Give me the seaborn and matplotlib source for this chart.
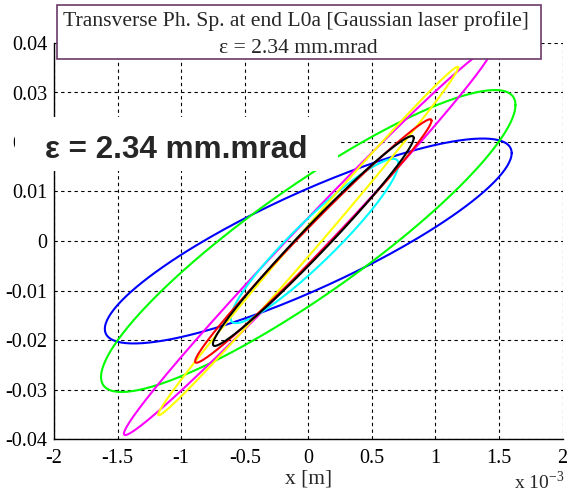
import numpy as np
import pandas as pd
import matplotlib
matplotlib.use("Agg")
from matplotlib import pyplot as plt
from matplotlib.patches import Rectangle
import seaborn as sb

# phase space ellipses
# x in units of 1e-3 m, x' in rad, phase = x / x' correlation angle
beams = ["blue", "green", "magenta", "cyan", "yellow", "red", "black"]
line_colors = ["#0000ff", "#00ff00", "#ff00ff", "#00ffff", "#ffff00", "#ff0000", "#000000"]
x_half = [1.60, 1.63, 1.45, 0.66, 1.18, 0.93, 0.79]
xp_half = [0.0207, 0.0305, 0.0392, 0.0166, 0.0352, 0.0246, 0.0212]
phase = [0.54, 0.45, 0.12, 0.36, 0.09, 0.15, 0.19]
x_center = [0.0, 0.0, 0.0, 0.05, 0.0, 0.04, 0.04]
xp_center = [0.0, 0.0, 0.0, 0.0, 0.0, 0.0, 0.0]

x_ticks = [-2, -1.5, -1, -0.5, 0, 0.5, 1, 1.5, 2]
x_ticklabels = ["-2", "-1.5", "-1", "-0.5", "0", "0.5", "1", "1.5", "2"]
y_ticks = [-0.04, -0.03, -0.02, -0.01, 0, 0.01, 0.02, 0.03, 0.04]
y_ticklabels = ["-0.04", "-0.03", "-0.02", "-0.01", "0", "0.01", "0.02", "0.03", "0.04"]

title_line1 = "Transverse Ph. Sp. at end L0a [Gaussian laser profile]"
title_line2 = "\u03b5 = 2.34 mm.mrad"
big_label = "\u03b5 = 2.34 mm.mrad"
x_label = "x [m]"
x_scale = "x 10$^{-3}$"

# build the outlines
t = np.linspace(0, 2 * np.pi, 240)
frames = []
for name, a, b, ph, xc, yc in zip(beams, x_half, xp_half, phase, x_center, xp_center):
    frames.append(pd.DataFrame({"beam": name,
                                "step": np.arange(len(t)),
                                "x": xc + a * np.cos(t),
                                "xp": yc + b * np.cos(t - ph)}))
df = pd.concat(frames, ignore_index=True)

sb.set_style("white")
plt.rcParams["font.family"] = ["Liberation Serif", "DejaVu Serif"]
plt.rcParams["axes.unicode_minus"] = False
plt.rcParams["mathtext.fontset"] = "custom"
plt.rcParams["mathtext.rm"] = "Liberation Serif"

W, H = 568, 494
fig = plt.figure(figsize=(W / 100, H / 100), dpi=100)
ax = fig.add_axes([54 / W, 1 - 439 / H, (562.5 - 54) / W, (439 - 43) / H])

sb.lineplot(data=df, x="x", y="xp", hue="beam", units="beam", estimator=None,
            sort=False, palette=dict(zip(beams, line_colors)), hue_order=beams,
            linewidth=1.5, legend=False, ax=ax)

ax.set_xlim(-2, 2)
ax.set_ylim(-0.04, 0.04)
ax.set_xticks(x_ticks)
ax.set_xticklabels(x_ticklabels)
ax.set_yticks(y_ticks)
ax.set_yticklabels(y_ticklabels)
ax.grid(True, color="black", linestyle=(0, (3, 3)), linewidth=0.8)
for s in ["top", "right"]:
    ax.spines[s].set_visible(False)
for s in ["left", "bottom"]:
    ax.spines[s].set_color("black")
    ax.spines[s].set_linewidth(1.0)
ax.tick_params(direction="in", length=4, width=0.8, labelsize=14.5, colors="black")
ax.tick_params(axis="x", pad=7)
ax.tick_params(axis="y", pad=5)
ax.set_xlabel(x_label, fontsize=15.5, labelpad=1)
ax.set_ylabel("")

def fx(px):
    return px / W

def fy(py):
    return 1 - py / H

# x 10^-3 scale note at the bottom right corner
fig.text(fx(514), fy(493), x_scale, fontsize=14, ha="left", va="bottom")

# title box
fig.add_artist(Rectangle((fx(57), fy(59)), (541 - 57) / W, (59 - 5) / H,
                         transform=fig.transFigure, facecolor="white",
                         edgecolor="#6a3a6a", linewidth=1.2, zorder=2))
fig.text(fx(296), fy(26), title_line1, fontsize=15.6, ha="center", va="baseline", zorder=3)
fig.text(fx(298), fy(53), title_line2, fontsize=15.6, ha="center", va="baseline", zorder=3)

# big emittance label on white patch
fig.add_artist(Rectangle((fx(15), fy(171)), (338 - 15) / W, (171 - 117) / H,
                         transform=fig.transFigure, facecolor="white",
                         edgecolor="none", zorder=2))
fig.text(fx(45), fy(158), big_label, fontsize=22.7, fontweight="bold",
         family=["Liberation Sans", "DejaVu Sans"], ha="left", va="baseline", zorder=3)

plt.savefig("out.png", dpi=100)
plt.close("all")
